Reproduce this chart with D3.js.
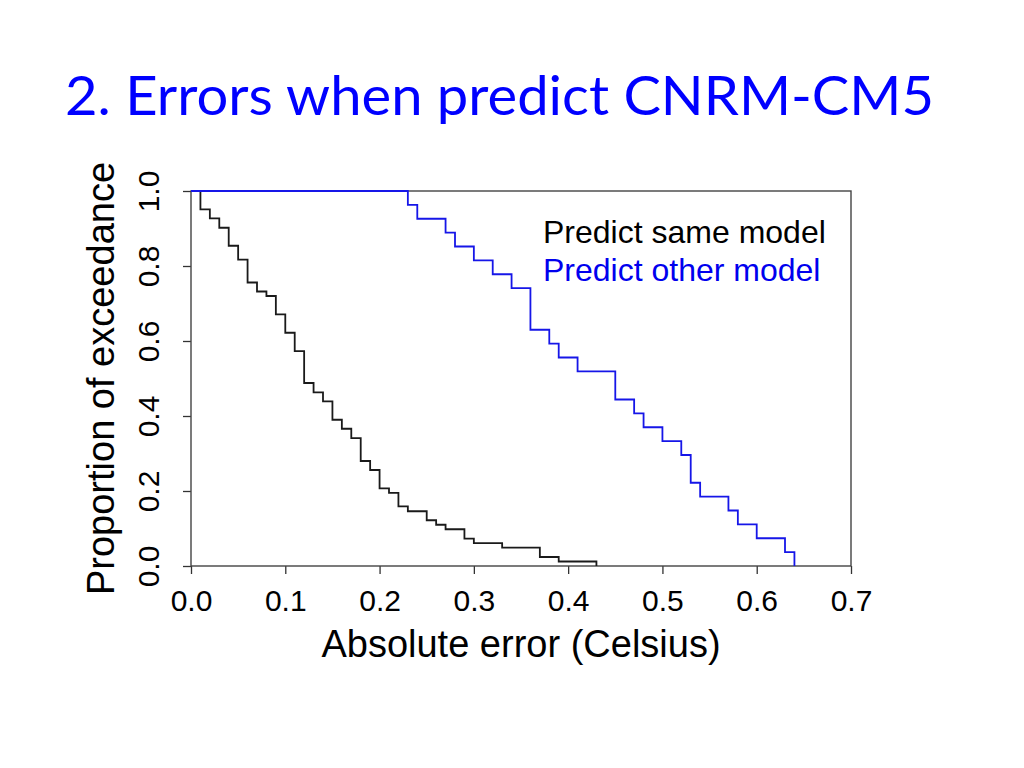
<!DOCTYPE html>
<html>
<head>
<meta charset="utf-8">
<script src="https://cdn.jsdelivr.net/npm/d3@7"></script>
<style>
  body { margin: 0; background: #fff; }
  svg { display: block; }
</style>
</head>
<body>
<div id="graph"></div>
<script>
  // exceedance curves (x in Celsius, proportion after each drop)
  const sameModelX = [0, 0.01, 0.02, 0.03, 0.04, 0.05, 0.06, 0.07, 0.08, 0.09, 0.10, 0.11, 0.12, 0.13, 0.14, 0.15, 0.16, 0.17, 0.18, 0.19, 0.20, 0.21, 0.22, 0.23, 0.25, 0.26, 0.27, 0.29, 0.30, 0.33, 0.37, 0.39, 0.43];
  const sameModelP = [1.0, 0.951, 0.927, 0.902, 0.854, 0.817, 0.756, 0.732, 0.720, 0.671, 0.622, 0.573, 0.488, 0.463, 0.439, 0.390, 0.366, 0.341, 0.280, 0.256, 0.207, 0.195, 0.159, 0.146, 0.122, 0.110, 0.098, 0.073, 0.061, 0.049, 0.024, 0.012, 0.0];

  const otherModelX = [0, 0.23, 0.24, 0.27, 0.28, 0.30, 0.32, 0.34, 0.36, 0.38, 0.39, 0.41, 0.45, 0.47, 0.48, 0.50, 0.52, 0.53, 0.54, 0.57, 0.58, 0.60, 0.63, 0.64];
  const otherModelP = [1.0, 0.963, 0.926, 0.889, 0.852, 0.815, 0.778, 0.741, 0.630, 0.593, 0.556, 0.519, 0.444, 0.407, 0.370, 0.333, 0.296, 0.222, 0.185, 0.148, 0.111, 0.074, 0.037, 0.0];

  const xTicks = [0, 0.1, 0.2, 0.3, 0.4, 0.5, 0.6, 0.7];
  const yTicks = [0, 0.2, 0.4, 0.6, 0.8, 1.0];

  const seriesNames = ['Predict same model', 'Predict other model'];
  const seriesColors = ['#1a1a1a', '#1616e8'];

  const width = 1024, height = 768;
  const plotLeft = 191, plotRight = 851, plotTop = 191, plotBottom = 566;

  const x = d3.scaleLinear().domain([0, 0.7]).range([plotLeft, plotRight]);
  const y = d3.scaleLinear().domain([0, 1]).range([plotBottom, plotTop]);

  const svg = d3.select('#graph').append('svg')
      .attr('width', width)
      .attr('height', height);

  svg.append('text')
      .attr('x', 65)
      .attr('y', 115)
      .attr('font-family', 'Lato, "Open Sans", sans-serif')
      .attr('font-size', 55)
      .attr('fill', '#0000ff')
      .attr('textLength', 869)
      .attr('lengthAdjust', 'spacingAndGlyphs')
      .text('2. Errors when predict CNRM-CM5');

  const font = '"Liberation Sans", Arial, Helvetica, sans-serif';

  // x axis
  const xAxis = svg.append('g')
      .attr('transform', `translate(0,${plotBottom})`)
      .call(d3.axisBottom(x).tickValues(xTicks).tickFormat(d3.format('.1f')).tickSize(8).tickPadding(16));
  xAxis.select('.domain').remove();
  xAxis.selectAll('line').attr('stroke', '#333').attr('stroke-width', 1.3);
  xAxis.selectAll('text')
      .attr('font-family', font)
      .attr('font-size', 30)
      .attr('fill', '#000');

  // y axis, labels rotated like base R
  const yAxis = svg.append('g')
      .attr('transform', `translate(${plotLeft},0)`)
      .call(d3.axisLeft(y).tickValues(yTicks).tickFormat(d3.format('.1f')).tickSize(8));
  yAxis.select('.domain').remove();
  yAxis.selectAll('line').attr('stroke', '#333').attr('stroke-width', 1.3);
  yAxis.selectAll('text')
      .attr('font-family', font)
      .attr('font-size', 30)
      .attr('fill', '#000')
      .attr('text-anchor', 'middle')
      .attr('transform', 'rotate(-90)')
      .attr('x', 0)
      .attr('y', -32)
      .attr('dy', 0);

  // plot box
  svg.append('rect')
      .attr('x', x(0))
      .attr('y', y(1))
      .attr('width', x(0.7) - x(0))
      .attr('height', y(0) - y(1))
      .attr('fill', 'none')
      .attr('stroke', '#444')
      .attr('stroke-width', 1.4);

  const line = d3.line()
      .x(d => x(d[0]))
      .y(d => y(d[1]))
      .curve(d3.curveStepAfter);

  const series = [
    d3.zip(sameModelX, sameModelP),
    d3.zip(otherModelX, otherModelP)
  ];

  svg.selectAll('path.curve')
    .data(series)
    .join('path')
      .attr('class', 'curve')
      .attr('fill', 'none')
      .attr('stroke', (d, i) => seriesColors[i])
      .attr('stroke-width', 1.8)
      .attr('d', line);

  // legend
  svg.selectAll('text.legend')
    .data(seriesNames)
    .join('text')
      .attr('class', 'legend')
      .attr('x', 543)
      .attr('y', (d, i) => 243 + i * 38)
      .attr('font-family', font)
      .attr('font-size', 32)
      .attr('fill', (d, i) => i === 0 ? '#000' : '#0000ee')
      .text(d => d);

  // axis titles
  svg.append('text')
      .attr('x', (plotLeft + plotRight) / 2)
      .attr('y', 657)
      .attr('text-anchor', 'middle')
      .attr('font-family', font)
      .attr('font-size', 38)
      .attr('fill', '#000')
      .text('Absolute error (Celsius)');

  svg.append('text')
      .attr('transform', `translate(114,${(plotTop + plotBottom) / 2}) rotate(-90)`)
      .attr('text-anchor', 'middle')
      .attr('font-family', font)
      .attr('font-size', 38)
      .attr('fill', '#000')
      .text('Proportion of exceedance');
</script>
</body>
</html>
